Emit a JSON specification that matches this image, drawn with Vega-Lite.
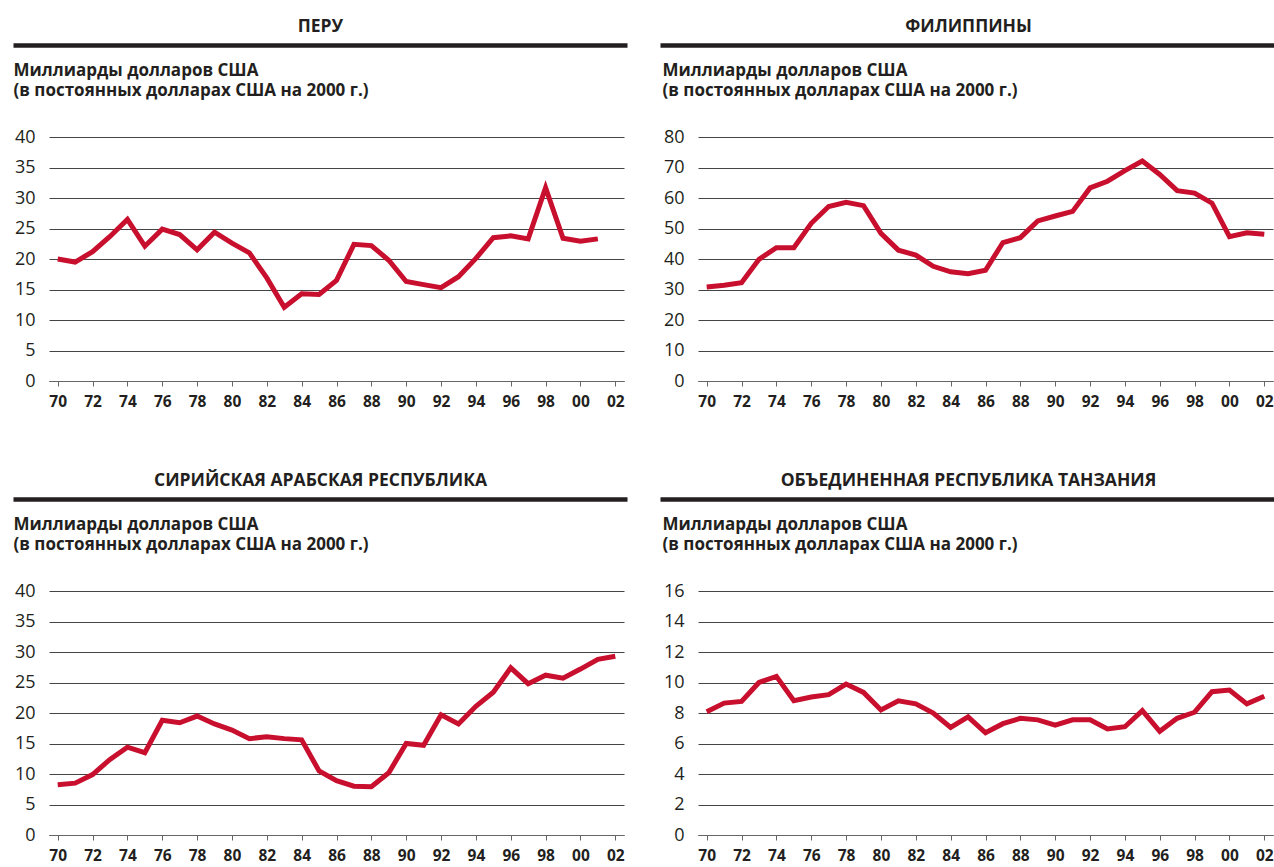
{
  "$schema": "https://vega.github.io/schema/vega-lite/v6.json",
  "padding": {"left": 13, "top": 17, "right": 0, "bottom": 0},
  "background": "white",
  "bounds": "flush",
  "columns": 2,
  "spacing": {"row": 210, "column": 74},
  "config": {
    "font": "Open Sans",
    "view": {"stroke": null},
    "axis": {"labelColor": "#231f20", "titleColor": "#231f20"}
  },
  "datasets": {
    "d": [
      {"country": "ПЕРУ", "year": 1970, "value": 20.0},
      {"country": "ПЕРУ", "year": 1971, "value": 19.5},
      {"country": "ПЕРУ", "year": 1972, "value": 21.2},
      {"country": "ПЕРУ", "year": 1973, "value": 23.7},
      {"country": "ПЕРУ", "year": 1974, "value": 26.5},
      {"country": "ПЕРУ", "year": 1975, "value": 22.1},
      {"country": "ПЕРУ", "year": 1976, "value": 24.9},
      {"country": "ПЕРУ", "year": 1977, "value": 24.0},
      {"country": "ПЕРУ", "year": 1978, "value": 21.5},
      {"country": "ПЕРУ", "year": 1979, "value": 24.4},
      {"country": "ПЕРУ", "year": 1980, "value": 22.6},
      {"country": "ПЕРУ", "year": 1981, "value": 21.0},
      {"country": "ПЕРУ", "year": 1982, "value": 16.9},
      {"country": "ПЕРУ", "year": 1983, "value": 12.1},
      {"country": "ПЕРУ", "year": 1984, "value": 14.3},
      {"country": "ПЕРУ", "year": 1985, "value": 14.2},
      {"country": "ПЕРУ", "year": 1986, "value": 16.5},
      {"country": "ПЕРУ", "year": 1987, "value": 22.4},
      {"country": "ПЕРУ", "year": 1988, "value": 22.2},
      {"country": "ПЕРУ", "year": 1989, "value": 19.8},
      {"country": "ПЕРУ", "year": 1990, "value": 16.3},
      {"country": "ПЕРУ", "year": 1991, "value": 15.8},
      {"country": "ПЕРУ", "year": 1992, "value": 15.3},
      {"country": "ПЕРУ", "year": 1993, "value": 17.1},
      {"country": "ПЕРУ", "year": 1994, "value": 20.1},
      {"country": "ПЕРУ", "year": 1995, "value": 23.5},
      {"country": "ПЕРУ", "year": 1996, "value": 23.8},
      {"country": "ПЕРУ", "year": 1997, "value": 23.3},
      {"country": "ПЕРУ", "year": 1998, "value": 31.7},
      {"country": "ПЕРУ", "year": 1999, "value": 23.4},
      {"country": "ПЕРУ", "year": 2000, "value": 22.9},
      {"country": "ПЕРУ", "year": 2001, "value": 23.3},
      {"country": "ФИЛИППИНЫ", "year": 1970, "value": 30.8},
      {"country": "ФИЛИППИНЫ", "year": 1971, "value": 31.4},
      {"country": "ФИЛИППИНЫ", "year": 1972, "value": 32.2},
      {"country": "ФИЛИППИНЫ", "year": 1973, "value": 39.9},
      {"country": "ФИЛИППИНЫ", "year": 1974, "value": 43.7},
      {"country": "ФИЛИППИНЫ", "year": 1975, "value": 43.7},
      {"country": "ФИЛИППИНЫ", "year": 1976, "value": 51.7},
      {"country": "ФИЛИППИНЫ", "year": 1977, "value": 57.2},
      {"country": "ФИЛИППИНЫ", "year": 1978, "value": 58.6},
      {"country": "ФИЛИППИНЫ", "year": 1979, "value": 57.5},
      {"country": "ФИЛИППИНЫ", "year": 1980, "value": 48.4},
      {"country": "ФИЛИППИНЫ", "year": 1981, "value": 42.9},
      {"country": "ФИЛИППИНЫ", "year": 1982, "value": 41.3},
      {"country": "ФИЛИППИНЫ", "year": 1983, "value": 37.6},
      {"country": "ФИЛИППИНЫ", "year": 1984, "value": 35.8},
      {"country": "ФИЛИППИНЫ", "year": 1985, "value": 35.2},
      {"country": "ФИЛИППИНЫ", "year": 1986, "value": 36.3},
      {"country": "ФИЛИППИНЫ", "year": 1987, "value": 45.4},
      {"country": "ФИЛИППИНЫ", "year": 1988, "value": 47.0},
      {"country": "ФИЛИППИНЫ", "year": 1989, "value": 52.5},
      {"country": "ФИЛИППИНЫ", "year": 1990, "value": 54.1},
      {"country": "ФИЛИППИНЫ", "year": 1991, "value": 55.6},
      {"country": "ФИЛИППИНЫ", "year": 1992, "value": 63.3},
      {"country": "ФИЛИППИНЫ", "year": 1993, "value": 65.5},
      {"country": "ФИЛИППИНЫ", "year": 1994, "value": 69.0},
      {"country": "ФИЛИППИНЫ", "year": 1995, "value": 72.1},
      {"country": "ФИЛИППИНЫ", "year": 1996, "value": 67.7},
      {"country": "ФИЛИППИНЫ", "year": 1997, "value": 62.4},
      {"country": "ФИЛИППИНЫ", "year": 1998, "value": 61.6},
      {"country": "ФИЛИППИНЫ", "year": 1999, "value": 58.3},
      {"country": "ФИЛИППИНЫ", "year": 2000, "value": 47.3},
      {"country": "ФИЛИППИНЫ", "year": 2001, "value": 48.6},
      {"country": "ФИЛИППИНЫ", "year": 2002, "value": 48.1},
      {"country": "СИРИЙСКАЯ АРАБСКАЯ РЕСПУБЛИКА", "year": 1970, "value": 8.25},
      {"country": "СИРИЙСКАЯ АРАБСКАЯ РЕСПУБЛИКА", "year": 1971, "value": 8.5},
      {"country": "СИРИЙСКАЯ АРАБСКАЯ РЕСПУБЛИКА", "year": 1972, "value": 9.9},
      {"country": "СИРИЙСКАЯ АРАБСКАЯ РЕСПУБЛИКА", "year": 1973, "value": 12.4},
      {"country": "СИРИЙСКАЯ АРАБСКАЯ РЕСПУБЛИКА", "year": 1974, "value": 14.4},
      {"country": "СИРИЙСКАЯ АРАБСКАЯ РЕСПУБЛИКА", "year": 1975, "value": 13.5},
      {"country": "СИРИЙСКАЯ АРАБСКАЯ РЕСПУБЛИКА", "year": 1976, "value": 18.8},
      {"country": "СИРИЙСКАЯ АРАБСКАЯ РЕСПУБЛИКА", "year": 1977, "value": 18.4},
      {"country": "СИРИЙСКАЯ АРАБСКАЯ РЕСПУБЛИКА", "year": 1978, "value": 19.5},
      {"country": "СИРИЙСКАЯ АРАБСКАЯ РЕСПУБЛИКА", "year": 1979, "value": 18.2},
      {"country": "СИРИЙСКАЯ АРАБСКАЯ РЕСПУБЛИКА", "year": 1980, "value": 17.2},
      {"country": "СИРИЙСКАЯ АРАБСКАЯ РЕСПУБЛИКА", "year": 1981, "value": 15.8},
      {"country": "СИРИЙСКАЯ АРАБСКАЯ РЕСПУБЛИКА", "year": 1982, "value": 16.1},
      {"country": "СИРИЙСКАЯ АРАБСКАЯ РЕСПУБЛИКА", "year": 1983, "value": 15.8},
      {"country": "СИРИЙСКАЯ АРАБСКАЯ РЕСПУБЛИКА", "year": 1984, "value": 15.6},
      {"country": "СИРИЙСКАЯ АРАБСКАЯ РЕСПУБЛИКА", "year": 1985, "value": 10.5},
      {"country": "СИРИЙСКАЯ АРАБСКАЯ РЕСПУБЛИКА", "year": 1986, "value": 8.9},
      {"country": "СИРИЙСКАЯ АРАБСКАЯ РЕСПУБЛИКА", "year": 1987, "value": 8.0},
      {"country": "СИРИЙСКАЯ АРАБСКАЯ РЕСПУБЛИКА", "year": 1988, "value": 7.9},
      {"country": "СИРИЙСКАЯ АРАБСКАЯ РЕСПУБЛИКА", "year": 1989, "value": 10.2},
      {"country": "СИРИЙСКАЯ АРАБСКАЯ РЕСПУБЛИКА", "year": 1990, "value": 15.0},
      {"country": "СИРИЙСКАЯ АРАБСКАЯ РЕСПУБЛИКА", "year": 1991, "value": 14.7},
      {"country": "СИРИЙСКАЯ АРАБСКАЯ РЕСПУБЛИКА", "year": 1992, "value": 19.7},
      {"country": "СИРИЙСКАЯ АРАБСКАЯ РЕСПУБЛИКА", "year": 1993, "value": 18.2},
      {"country": "СИРИЙСКАЯ АРАБСКАЯ РЕСПУБЛИКА", "year": 1994, "value": 21.1},
      {"country": "СИРИЙСКАЯ АРАБСКАЯ РЕСПУБЛИКА", "year": 1995, "value": 23.4},
      {"country": "СИРИЙСКАЯ АРАБСКАЯ РЕСПУБЛИКА", "year": 1996, "value": 27.4},
      {"country": "СИРИЙСКАЯ АРАБСКАЯ РЕСПУБЛИКА", "year": 1997, "value": 24.8},
      {"country": "СИРИЙСКАЯ АРАБСКАЯ РЕСПУБЛИКА", "year": 1998, "value": 26.2},
      {"country": "СИРИЙСКАЯ АРАБСКАЯ РЕСПУБЛИКА", "year": 1999, "value": 25.7},
      {"country": "СИРИЙСКАЯ АРАБСКАЯ РЕСПУБЛИКА", "year": 2000, "value": 27.2},
      {"country": "СИРИЙСКАЯ АРАБСКАЯ РЕСПУБЛИКА", "year": 2001, "value": 28.8},
      {"country": "СИРИЙСКАЯ АРАБСКАЯ РЕСПУБЛИКА", "year": 2002, "value": 29.3},
      {"country": "ОБЪЕДИНЕННАЯ РЕСПУБЛИКА ТАНЗАНИЯ", "year": 1970, "value": 8.08},
      {"country": "ОБЪЕДИНЕННАЯ РЕСПУБЛИКА ТАНЗАНИЯ", "year": 1971, "value": 8.65},
      {"country": "ОБЪЕДИНЕННАЯ РЕСПУБЛИКА ТАНЗАНИЯ", "year": 1972, "value": 8.76},
      {"country": "ОБЪЕДИНЕННАЯ РЕСПУБЛИКА ТАНЗАНИЯ", "year": 1973, "value": 10.0},
      {"country": "ОБЪЕДИНЕННАЯ РЕСПУБЛИКА ТАНЗАНИЯ", "year": 1974, "value": 10.4},
      {"country": "ОБЪЕДИНЕННАЯ РЕСПУБЛИКА ТАНЗАНИЯ", "year": 1975, "value": 8.8},
      {"country": "ОБЪЕДИНЕННАЯ РЕСПУБЛИКА ТАНЗАНИЯ", "year": 1976, "value": 9.05},
      {"country": "ОБЪЕДИНЕННАЯ РЕСПУБЛИКА ТАНЗАНИЯ", "year": 1977, "value": 9.2},
      {"country": "ОБЪЕДИНЕННАЯ РЕСПУБЛИКА ТАНЗАНИЯ", "year": 1978, "value": 9.9},
      {"country": "ОБЪЕДИНЕННАЯ РЕСПУБЛИКА ТАНЗАНИЯ", "year": 1979, "value": 9.35},
      {"country": "ОБЪЕДИНЕННАЯ РЕСПУБЛИКА ТАНЗАНИЯ", "year": 1980, "value": 8.2},
      {"country": "ОБЪЕДИНЕННАЯ РЕСПУБЛИКА ТАНЗАНИЯ", "year": 1981, "value": 8.8},
      {"country": "ОБЪЕДИНЕННАЯ РЕСПУБЛИКА ТАНЗАНИЯ", "year": 1982, "value": 8.6},
      {"country": "ОБЪЕДИНЕННАЯ РЕСПУБЛИКА ТАНЗАНИЯ", "year": 1983, "value": 8.0},
      {"country": "ОБЪЕДИНЕННАЯ РЕСПУБЛИКА ТАНЗАНИЯ", "year": 1984, "value": 7.05},
      {"country": "ОБЪЕДИНЕННАЯ РЕСПУБЛИКА ТАНЗАНИЯ", "year": 1985, "value": 7.75},
      {"country": "ОБЪЕДИНЕННАЯ РЕСПУБЛИКА ТАНЗАНИЯ", "year": 1986, "value": 6.7},
      {"country": "ОБЪЕДИНЕННАЯ РЕСПУБЛИКА ТАНЗАНИЯ", "year": 1987, "value": 7.3},
      {"country": "ОБЪЕДИНЕННАЯ РЕСПУБЛИКА ТАНЗАНИЯ", "year": 1988, "value": 7.65},
      {"country": "ОБЪЕДИНЕННАЯ РЕСПУБЛИКА ТАНЗАНИЯ", "year": 1989, "value": 7.55},
      {"country": "ОБЪЕДИНЕННАЯ РЕСПУБЛИКА ТАНЗАНИЯ", "year": 1990, "value": 7.2},
      {"country": "ОБЪЕДИНЕННАЯ РЕСПУБЛИКА ТАНЗАНИЯ", "year": 1991, "value": 7.55},
      {"country": "ОБЪЕДИНЕННАЯ РЕСПУБЛИКА ТАНЗАНИЯ", "year": 1992, "value": 7.55},
      {"country": "ОБЪЕДИНЕННАЯ РЕСПУБЛИКА ТАНЗАНИЯ", "year": 1993, "value": 6.95},
      {"country": "ОБЪЕДИНЕННАЯ РЕСПУБЛИКА ТАНЗАНИЯ", "year": 1994, "value": 7.1},
      {"country": "ОБЪЕДИНЕННАЯ РЕСПУБЛИКА ТАНЗАНИЯ", "year": 1995, "value": 8.15},
      {"country": "ОБЪЕДИНЕННАЯ РЕСПУБЛИКА ТАНЗАНИЯ", "year": 1996, "value": 6.8},
      {"country": "ОБЪЕДИНЕННАЯ РЕСПУБЛИКА ТАНЗАНИЯ", "year": 1997, "value": 7.65},
      {"country": "ОБЪЕДИНЕННАЯ РЕСПУБЛИКА ТАНЗАНИЯ", "year": 1998, "value": 8.05},
      {"country": "ОБЪЕДИНЕННАЯ РЕСПУБЛИКА ТАНЗАНИЯ", "year": 1999, "value": 9.4},
      {"country": "ОБЪЕДИНЕННАЯ РЕСПУБЛИКА ТАНЗАНИЯ", "year": 2000, "value": 9.5},
      {"country": "ОБЪЕДИНЕННАЯ РЕСПУБЛИКА ТАНЗАНИЯ", "year": 2001, "value": 8.6},
      {"country": "ОБЪЕДИНЕННАЯ РЕСПУБЛИКА ТАНЗАНИЯ", "year": 2002, "value": 9.1}
    ]
  },
  "concat": [
    {
      "data": {"name": "d"},
      "transform": [{"filter": "datum.country === 'ПЕРУ'"}],
      "width": 575, "height": 244,
      "encoding": {
        "y": {"field": "value", "type": "quantitative",
          "scale": {"domain": [0, 40], "nice": false},
          "axis": {"values": [0, 5, 10, 15, 20, 25, 30, 35, 40], "grid": true, "gridColor": "#444", "gridWidth": 1, "domain": false, "ticks": false, "labelPadding": 14, "labelFontSize": 18,
            "title": ["Миллиарды долларов США", "(в постоянных долларах США на 2000 г.)"],
            "titleAngle": 0, "titleAlign": "left", "titleBaseline": "top", "titleX": -36, "titleY": -75, "titleFontSize": 17, "titleFontWeight": "bold", "titleLineHeight": 20.5}}
      },
      "layer": [
        {"mark": {"type": "line", "color": "#c8102e", "strokeWidth": 5, "strokeJoin": "miter"},
          "encoding": {"x": {"field": "year", "type": "quantitative",
            "scale": {"domain": [1969.5, 2002.5], "nice": false, "zero": false},
            "axis": {"values": [1970, 1972, 1974, 1976, 1978, 1980, 1982, 1984, 1986, 1988, 1990, 1992, 1994, 1996, 1998, 2000, 2002], "labelExpr": "substring(toString(datum.value), 2)", "labelFontWeight": "bold", "labelFontSize": 15.5, "labelPadding": 8, "tickSize": 5, "tickColor": "#666", "domainColor": "#666", "grid": false, "title": null}}}},
        {"mark": {"type": "line", "opacity": 0},
          "encoding": {"x": {"field": "year", "type": "quantitative",
            "scale": {"domain": [1969.5, 2002.5], "range": [-36, 578], "nice": false, "zero": false},
            "axis": {"orient": "top", "offset": 92, "labels": false, "ticks": false, "grid": false, "domainColor": "#231f20", "domainWidth": 4.5, "title": "ПЕРУ", "titleFontSize": 17.5, "titleFontWeight": "bold", "titlePadding": 10}}}}
      ],
      "resolve": {"scale": {"x": "independent"}, "axis": {"x": "independent"}}
    },
    {
      "data": {"name": "d"},
      "transform": [{"filter": "datum.country === 'ФИЛИППИНЫ'"}],
      "width": 575, "height": 244,
      "encoding": {
        "y": {"field": "value", "type": "quantitative",
          "scale": {"domain": [0, 80], "nice": false},
          "axis": {"values": [0, 10, 20, 30, 40, 50, 60, 70, 80], "grid": true, "gridColor": "#444", "gridWidth": 1, "domain": false, "ticks": false, "labelPadding": 14, "labelFontSize": 18,
            "title": ["Миллиарды долларов США", "(в постоянных долларах США на 2000 г.)"],
            "titleAngle": 0, "titleAlign": "left", "titleBaseline": "top", "titleX": -36, "titleY": -75, "titleFontSize": 17, "titleFontWeight": "bold", "titleLineHeight": 20.5}}
      },
      "layer": [
        {"mark": {"type": "line", "color": "#c8102e", "strokeWidth": 5, "strokeJoin": "miter"},
          "encoding": {"x": {"field": "year", "type": "quantitative",
            "scale": {"domain": [1969.5, 2002.5], "nice": false, "zero": false},
            "axis": {"values": [1970, 1972, 1974, 1976, 1978, 1980, 1982, 1984, 1986, 1988, 1990, 1992, 1994, 1996, 1998, 2000, 2002], "labelExpr": "substring(toString(datum.value), 2)", "labelFontWeight": "bold", "labelFontSize": 15.5, "labelPadding": 8, "tickSize": 5, "tickColor": "#666", "domainColor": "#666", "grid": false, "title": null}}}},
        {"mark": {"type": "line", "opacity": 0},
          "encoding": {"x": {"field": "year", "type": "quantitative",
            "scale": {"domain": [1969.5, 2002.5], "range": [-38, 578], "nice": false, "zero": false},
            "axis": {"orient": "top", "offset": 92, "labels": false, "ticks": false, "grid": false, "domainColor": "#231f20", "domainWidth": 4.5, "title": "ФИЛИППИНЫ", "titleFontSize": 17.5, "titleFontWeight": "bold", "titlePadding": 10}}}}
      ],
      "resolve": {"scale": {"x": "independent"}, "axis": {"x": "independent"}}
    },
    {
      "data": {"name": "d"},
      "transform": [{"filter": "datum.country === 'СИРИЙСКАЯ АРАБСКАЯ РЕСПУБЛИКА'"}],
      "width": 575, "height": 244,
      "encoding": {
        "y": {"field": "value", "type": "quantitative",
          "scale": {"domain": [0, 40], "nice": false},
          "axis": {"values": [0, 5, 10, 15, 20, 25, 30, 35, 40], "grid": true, "gridColor": "#444", "gridWidth": 1, "domain": false, "ticks": false, "labelPadding": 14, "labelFontSize": 18,
            "title": ["Миллиарды долларов США", "(в постоянных долларах США на 2000 г.)"],
            "titleAngle": 0, "titleAlign": "left", "titleBaseline": "top", "titleX": -36, "titleY": -75, "titleFontSize": 17, "titleFontWeight": "bold", "titleLineHeight": 20.5}}
      },
      "layer": [
        {"mark": {"type": "line", "color": "#c8102e", "strokeWidth": 5, "strokeJoin": "miter"},
          "encoding": {"x": {"field": "year", "type": "quantitative",
            "scale": {"domain": [1969.5, 2002.5], "nice": false, "zero": false},
            "axis": {"values": [1970, 1972, 1974, 1976, 1978, 1980, 1982, 1984, 1986, 1988, 1990, 1992, 1994, 1996, 1998, 2000, 2002], "labelExpr": "substring(toString(datum.value), 2)", "labelFontWeight": "bold", "labelFontSize": 15.5, "labelPadding": 8, "tickSize": 5, "tickColor": "#666", "domainColor": "#666", "grid": false, "title": null}}}},
        {"mark": {"type": "line", "opacity": 0},
          "encoding": {"x": {"field": "year", "type": "quantitative",
            "scale": {"domain": [1969.5, 2002.5], "range": [-36, 578], "nice": false, "zero": false},
            "axis": {"orient": "top", "offset": 92, "labels": false, "ticks": false, "grid": false, "domainColor": "#231f20", "domainWidth": 4.5, "title": "СИРИЙСКАЯ АРАБСКАЯ РЕСПУБЛИКА", "titleFontSize": 17.5, "titleFontWeight": "bold", "titlePadding": 10}}}}
      ],
      "resolve": {"scale": {"x": "independent"}, "axis": {"x": "independent"}}
    },
    {
      "data": {"name": "d"},
      "transform": [{"filter": "datum.country === 'ОБЪЕДИНЕННАЯ РЕСПУБЛИКА ТАНЗАНИЯ'"}],
      "width": 575, "height": 244,
      "encoding": {
        "y": {"field": "value", "type": "quantitative",
          "scale": {"domain": [0, 16], "nice": false},
          "axis": {"values": [0, 2, 4, 6, 8, 10, 12, 14, 16], "grid": true, "gridColor": "#444", "gridWidth": 1, "domain": false, "ticks": false, "labelPadding": 14, "labelFontSize": 18,
            "title": ["Миллиарды долларов США", "(в постоянных долларах США на 2000 г.)"],
            "titleAngle": 0, "titleAlign": "left", "titleBaseline": "top", "titleX": -36, "titleY": -75, "titleFontSize": 17, "titleFontWeight": "bold", "titleLineHeight": 20.5}}
      },
      "layer": [
        {"mark": {"type": "line", "color": "#c8102e", "strokeWidth": 5, "strokeJoin": "miter"},
          "encoding": {"x": {"field": "year", "type": "quantitative",
            "scale": {"domain": [1969.5, 2002.5], "nice": false, "zero": false},
            "axis": {"values": [1970, 1972, 1974, 1976, 1978, 1980, 1982, 1984, 1986, 1988, 1990, 1992, 1994, 1996, 1998, 2000, 2002], "labelExpr": "substring(toString(datum.value), 2)", "labelFontWeight": "bold", "labelFontSize": 15.5, "labelPadding": 8, "tickSize": 5, "tickColor": "#666", "domainColor": "#666", "grid": false, "title": null}}}},
        {"mark": {"type": "line", "opacity": 0},
          "encoding": {"x": {"field": "year", "type": "quantitative",
            "scale": {"domain": [1969.5, 2002.5], "range": [-38, 578], "nice": false, "zero": false},
            "axis": {"orient": "top", "offset": 92, "labels": false, "ticks": false, "grid": false, "domainColor": "#231f20", "domainWidth": 4.5, "title": "ОБЪЕДИНЕННАЯ РЕСПУБЛИКА ТАНЗАНИЯ", "titleFontSize": 17.5, "titleFontWeight": "bold", "titlePadding": 10}}}}
      ],
      "resolve": {"scale": {"x": "independent"}, "axis": {"x": "independent"}}
    }
  ]
}
